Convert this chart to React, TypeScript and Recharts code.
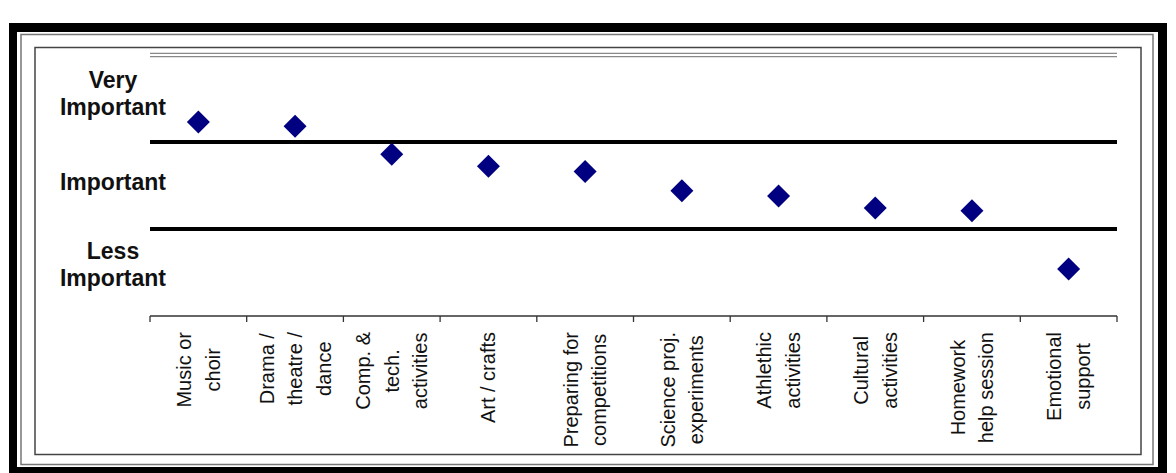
import React from 'react';
import { ScatterChart, Scatter, XAxis, YAxis, ReferenceLine } from 'recharts';

const CATEGORIES = [
  'Music or\nchoir',
  'Drama /\ntheatre /\ndance',
  'Comp. &\ntech.\nactivities',
  'Art / crafts',
  'Preparing for\ncompetitions',
  'Science proj.\nexperiments',
  'Athlethic\nactivities',
  'Cultural\nactivities',
  'Homework\nhelp session',
  'Emotional\nsupport',
];
const RATINGS = [2.23, 2.18, 1.86, 1.72, 1.66, 1.44, 1.38, 1.24, 1.21, 0.54];
const LEVEL_TICKS = [0.59, 1.54, 2.56];
const LEVEL_LABELS = ['Less\nImportant', 'Important', 'Very\nImportant'];
const BAND_LIMITS = [1, 2];
const BOUNDARY_TICKS = [0, 1, 2, 3, 4, 5, 6, 7, 8, 9, 10];

const data = CATEGORIES.map((name, i) => ({ x: i + 0.5, y: RATINGS[i], name }));

const W = 1104;
const H = 405;
const MARGIN = { top: 7, right: 23, left: 0, bottom: 0 };
const Y_AXIS_W = 114;
const X_AXIS_H = 137;
const BAND_PX = (W - MARGIN.right - MARGIN.left - Y_AXIS_W) / CATEGORIES.length;

const FONT = '"Liberation Sans", Arial, sans-serif';
const X_FONT_SIZE = 20;
const X_LINE_H = 28.5;
const Y_FONT_SIZE = 23;
const Y_LINE_H = 27;

let measureCtx: CanvasRenderingContext2D | null = null;
function textWidth(s: string) {
  if (!measureCtx) {
    measureCtx = document.createElement('canvas').getContext('2d');
  }
  if (!measureCtx) return s.length * X_FONT_SIZE * 0.5;
  measureCtx.font = `${X_FONT_SIZE}px ${FONT}`;
  return measureCtx.measureText(s).width;
}

function CategoryTick(props: any) {
  const { x, y, payload } = props;
  const i = payload.value;
  if (i >= CATEGORIES.length) return <g />;
  const lines = CATEGORIES[i].split('\n');
  const maxLen = Math.max(...lines.map(textWidth));
  const cx = x + BAND_PX / 2;
  const cy = y + 10 + maxLen / 2;
  return (
    <g transform={`translate(${cx}, ${cy}) rotate(-90)`}>
      {lines.map((l, j) => (
        <text
          key={j}
          x={0}
          y={(j - (lines.length - 1) / 2) * X_LINE_H}
          textAnchor="middle"
          dominantBaseline="central"
          fontFamily={FONT}
          fontSize={X_FONT_SIZE}
          fill="#111"
        >
          {l}
        </text>
      ))}
    </g>
  );
}

function LevelTick(props: any) {
  const { x, y, index } = props;
  const lines = LEVEL_LABELS[index].split('\n');
  return (
    <g>
      {lines.map((l, j) => (
        <text
          key={j}
          x={x - 37}
          y={y + (j - (lines.length - 1) / 2) * Y_LINE_H + Y_FONT_SIZE * 0.36}
          textAnchor="middle"
          fontFamily={FONT}
          fontWeight="bold"
          fontSize={Y_FONT_SIZE}
          fill="#111"
        >
          {l}
        </text>
      ))}
    </g>
  );
}

function Diamond(props: any) {
  const { cx, cy } = props;
  const r = 11.5;
  return (
    <polygon
      points={`${cx},${cy - r} ${cx + r},${cy} ${cx},${cy + r} ${cx - r},${cy}`}
      fill="#000080"
    />
  );
}

function DoubleLine(props: any) {
  const { x1, x2, y1 } = props;
  return (
    <g>
      <line x1={x1} x2={x2} y1={y1 - 1.7} y2={y1 - 1.7} stroke="#888" strokeWidth={1.3} />
      <line x1={x1} x2={x2} y1={y1 + 1.7} y2={y1 + 1.7} stroke="#888" strokeWidth={1.3} />
    </g>
  );
}

function Frame() {
  return (
    <svg width={1176} height={473} style={{ position: 'absolute', left: 0, top: 0 }}>
      <rect x={9} y={23} width={1158} height={460} fill="#000" />
      <rect x={17} y={32} width={1141} height={435} fill="#fff" />
      <rect x={21} y={34.5} width={1132} height={430} fill="none" stroke="#777" strokeWidth={1.5} />
      <rect x={35} y={47.5} width={1106} height={407} fill="none" stroke="#444" strokeWidth={1.5} />
    </svg>
  );
}

export default function App() {
  return (
    <div style={{ position: 'absolute', left: 0, top: 0, width: 1176, height: 473, background: '#fff', overflow: 'hidden' }}>
      <Frame />
      <div style={{ position: 'absolute', left: 36, top: 48 }}>
        <ScatterChart width={W} height={H} margin={MARGIN}>
          <XAxis
            type="number"
            dataKey="x"
            domain={[0, CATEGORIES.length]}
            ticks={BOUNDARY_TICKS}
            interval={0}
            height={X_AXIS_H}
            tickSize={6}
            tickMargin={0}
            axisLine={{ stroke: '#333', strokeWidth: 1.3 }}
            tickLine={{ stroke: '#333', strokeWidth: 1.3 }}
            tick={<CategoryTick />}
          />
          <YAxis
            type="number"
            dataKey="y"
            domain={[0, 3]}
            ticks={LEVEL_TICKS}
            interval={0}
            width={Y_AXIS_W}
            axisLine={false}
            tickLine={false}
            tickSize={0}
            tickMargin={0}
            tick={<LevelTick />}
          />
          <ReferenceLine y={3} shape={<DoubleLine />} />
          {BAND_LIMITS.map((v) => (
            <ReferenceLine key={v} y={v} stroke="#000" strokeWidth={4} />
          ))}
          <Scatter data={data} dataKey="y" shape={<Diamond />} isAnimationActive={false} />
        </ScatterChart>
      </div>
    </div>
  );
}
